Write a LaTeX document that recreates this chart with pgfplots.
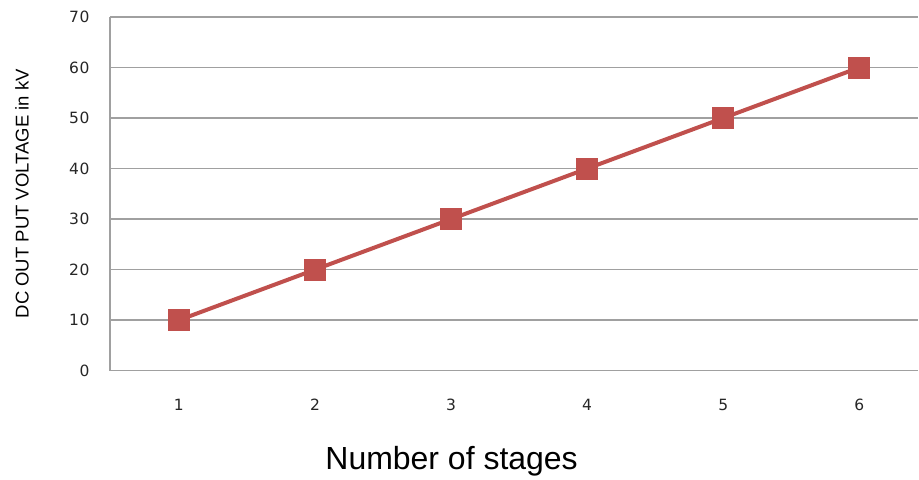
\documentclass[border=0pt]{standalone}
\usepackage{fontspec}
\setmainfont{Liberation Sans}
\newfontfamily\tickfont[LetterSpace=4]{DejaVu Sans}
\usepackage{pgfplots}
\pgfplotsset{compat=1.18}
\definecolor{exred}{HTML}{C0504D}
\definecolor{gridgray}{HTML}{A0A0A0}
\begin{document}
\begin{tikzpicture}
\begin{axis}[
  scale only axis,
  width=809bp, height=354bp,
  xmin=0.493, xmax=6.433,
  ymin=0, ymax=70,
  ytick={0,10,...,70},
  xtick={1,2,3,4,5,6},
  axis x line*=bottom,
  axis y line*=left,
  axis line style={gridgray, line width=1.5bp, -},
  ymajorgrids,
  grid style={gridgray, line width=1.5bp},
  major tick length=0pt,
  /pgf/number format/assume math mode=true,
  tick label style={font=\tickfont\fontsize{15.5bp}{17bp}\selectfont, text=black!85},
  yticklabel style={xshift=-17bp},
  xticklabel style={yshift=-25bp},
  ylabel={DC OUT PUT VOLTAGE in kV},
  ylabel style={at={(axis description cs:-0.1088,0.5)}, anchor=center, font=\fontsize{18.5bp}{20bp}\selectfont},
  xlabel={Number of stages},
  xlabel style={at={(axis description cs:0.4227,-0.257)}, anchor=center, font=\fontsize{32bp}{36bp}\selectfont},
  clip=false,
]
\addplot[exred, line width=4bp, mark=square*, mark size=10.5bp, mark options={solid, fill=exred, draw=exred, line width=0pt}]
  coordinates {(1,10) (2,20) (3,30) (4,40) (5,50) (6,60)};
\end{axis}
\useasboundingbox (-110bp,-109bp) rectangle (809bp,371bp);
\end{tikzpicture}
\end{document}
